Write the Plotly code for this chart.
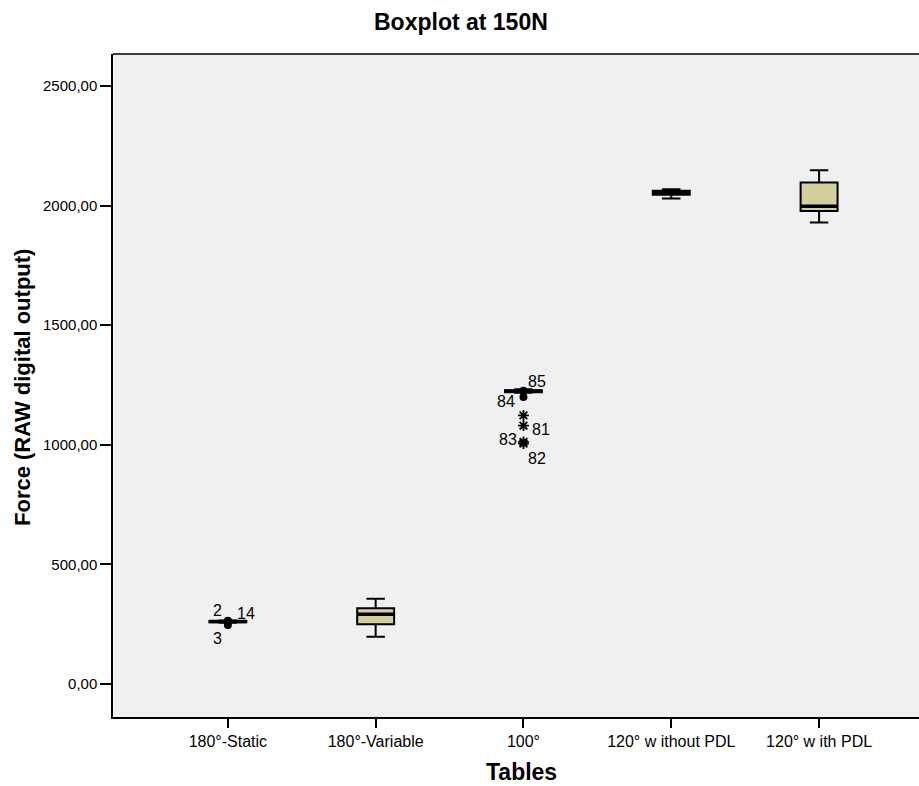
import plotly.graph_objects as go

# ---- data ----
categories = ["180°-Static", "180°-Variable", "100°", "120° w ithout PDL", "120° w ith PDL"]
lower_whisker = [256, 198, 1218, 2030, 1929]
q1_values = [258, 250, 1220, 2046, 1978]
medians = [261, 292, 1224, 2055, 1997]
q3_values = [263, 317, 1228, 2062, 2097]
upper_whisker = [265, 356, 1232, 2069, 2148]

# outliers: category index, value, case id, kind ("o" = outlier, "*" = extreme)
outlier_cat = [0, 0, 0, 2, 2, 2, 2, 2, 2]
outlier_val = [264, 262, 247, 1226, 1200, 1123, 1080, 1012, 1005]
outlier_id = ["2", "14", "3", "85", "84", "", "81", "83", "82"]
outlier_kind = ["o", "o", "o", "o", "o", "*", "*", "*", "*"]

y_ticks = [0, 500, 1000, 1500, 2000, 2500]
y_tick_labels = ["0,00", "500,00", "1000,00", "1500,00", "2000,00", "2500,00"]

# label offsets in pixels (styling)
label_dx = [-10, 18, -10, 14, -17, 0, 18, -15, 14]
label_dy = [10, 8, -14, 9, -5, 0, -4, 2, -15]

FONT = "Liberation Sans, Arial, sans-serif"
BOX_W = 0.25
fig = go.Figure()

# outliers first so the boxes/medians cover the hidden ones
ox = [c for c, k in zip(outlier_cat, outlier_kind) if k == "o"]
oy = [v for v, k in zip(outlier_val, outlier_kind) if k == "o"]
sx = [c for c, k in zip(outlier_cat, outlier_kind) if k == "*"]
sy = [v for v, k in zip(outlier_val, outlier_kind) if k == "*"]
fig.add_trace(go.Scatter(x=ox, y=oy, mode="markers",
                         marker=dict(symbol="circle", size=8, color="black"),
                         showlegend=False, hoverinfo="skip"))
fig.add_trace(go.Scatter(x=sx, y=sy, mode="markers",
                         marker=dict(symbol="asterisk-open", size=9, color="black",
                                     line=dict(color="black", width=1.8)),
                         showlegend=False, hoverinfo="skip"))

for i, cat in enumerate(categories):
    fig.add_trace(go.Box(
        x=[i], q1=[q1_values[i]], median=[medians[i]], q3=[q3_values[i]],
        lowerfence=[lower_whisker[i]], upperfence=[upper_whisker[i]],
        width=BOX_W, whiskerwidth=0.5, boxpoints=False,
        fillcolor="#D4CF9E", line=dict(color="black", width=2),
        showlegend=False, hoverinfo="skip"))

# thick median lines
mx, my = [], []
for i, m in enumerate(medians):
    mx += [i - BOX_W / 2, i + BOX_W / 2, None]
    my += [m, m, None]
fig.add_trace(go.Scatter(x=mx, y=my, mode="lines",
                         line=dict(color="black", width=3.5),
                         showlegend=False, hoverinfo="skip"))

for c, v, lab, dx, dy in zip(outlier_cat, outlier_val, outlier_id, label_dx, label_dy):
    if lab:
        fig.add_annotation(x=c, y=v, text=lab, showarrow=False,
                           xshift=dx, yshift=dy,
                           font=dict(family=FONT, size=16, color="black"))

# titles
fig.add_annotation(xref="paper", yref="paper", x=(461 - 113) / 806, y=1 + (54 - 22) / 663,
                   xanchor="center", yanchor="middle",
                   text="<b>Boxplot at 150N</b>", showarrow=False,
                   font=dict(family=FONT, size=23, color="black"))
fig.add_annotation(xref="paper", yref="paper", x=(521 - 113) / 806, y=(717 - 772) / 663,
                   xanchor="center", yanchor="middle",
                   text="<b>Tables</b>", showarrow=False,
                   font=dict(family=FONT, size=23, color="black"))
fig.add_annotation(xref="paper", yref="paper", x=(22 - 113) / 806, y=(717 - 388) / 663,
                   xanchor="center", yanchor="middle",
                   text="<b>Force (RAW digital output)</b>", showarrow=False, textangle=-90,
                   font=dict(family=FONT, size=22, color="black"))

# top border
fig.add_shape(type="line", xref="paper", yref="paper", x0=0, x1=1, y0=1, y1=1,
              line=dict(color="black", width=1.5))

fig.update_layout(
    width=919, height=786,
    margin=dict(l=113, r=0, t=54, b=69),
    paper_bgcolor="white", plot_bgcolor="#F0F0F0",
    font=dict(family=FONT, size=15, color="black"),
    xaxis=dict(range=[-0.777, 4.676], tickmode="array",
               tickvals=list(range(len(categories))), ticktext=categories,
               showgrid=False, zeroline=False, showline=True, linecolor="black", linewidth=1.5,
               ticks="outside", ticklen=9, tickwidth=1.5, tickcolor="black",
               tickfont=dict(family=FONT, size=16)),
    yaxis=dict(range=[-138, 2634], tickmode="array", tickvals=y_ticks, ticktext=y_tick_labels,
               showgrid=False, zeroline=False, showline=True, linecolor="black", linewidth=1.5,
               ticks="outside", ticklen=11, tickwidth=1.5, tickcolor="black",
               tickfont=dict(family=FONT, size=15)),
)

fig.write_html("out.html")
